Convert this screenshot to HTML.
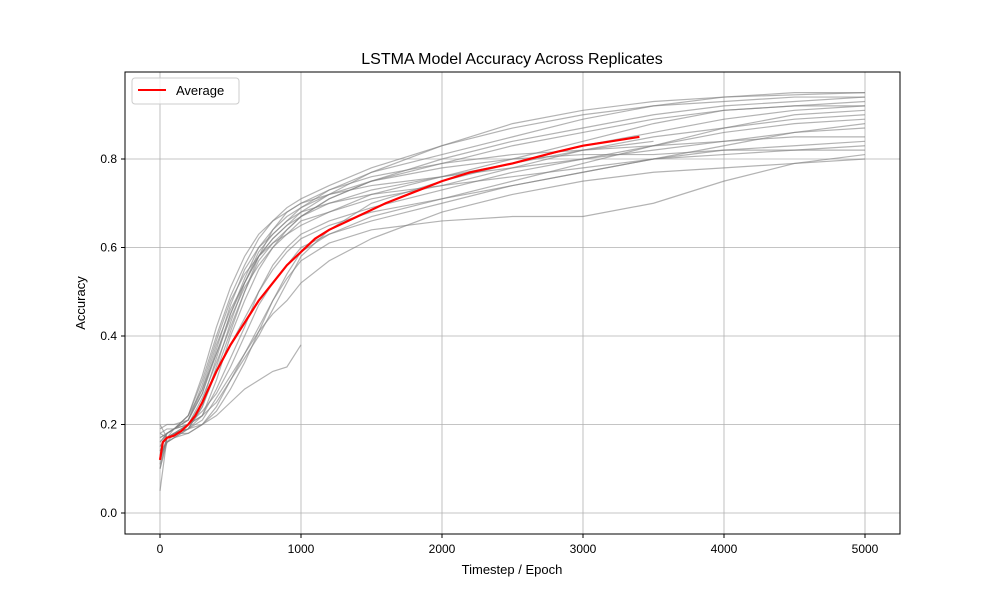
<!DOCTYPE html>
<html><head><meta charset="utf-8"><style>
html,body{margin:0;padding:0;background:#fff;}
svg{display:block;font-family:"Liberation Sans","DejaVu Sans",sans-serif;}
</style></head><body>
<svg id="chart" width="1000" height="600" viewBox="0 0 1000 600">
<rect x="0" y="0" width="1000" height="600" fill="#fff"/>
<text x="512" y="64" text-anchor="middle" font-size="16">LSTMA Model Accuracy Across Replicates</text>
<g id="grid"></g>
<g id="series"></g>
<g id="avg"></g>
<rect x="125" y="72" width="775" height="462" fill="none" stroke="#000" stroke-width="1"/>
<g id="xticks"></g>
<g id="yticks"></g>
<text x="512" y="574" text-anchor="middle" font-size="13">Timestep / Epoch</text>
<text x="85" y="303" text-anchor="middle" font-size="13" transform="rotate(-90 85 303)">Accuracy</text>
<g>
<rect x="132" y="78" width="107" height="26" rx="3" fill="#fff" fill-opacity="0.8" stroke="#ccc"/>
<line x1="138" y1="90" x2="166" y2="90" stroke="#ff0000" stroke-width="2"/>
<text x="176" y="95" font-size="13">Average</text>
</g>
</svg>
<script>
const xTicks=[0,1000,2000,3000,4000,5000];
const yTicks=[0.0,0.2,0.4,0.6,0.8];
const xs=[0,50,100,200,300,400,500,600,700,800,900,1000,1200,1500,2000,2500,3000,3500,4000,4500,5000];
const r1=[0.05,0.17,0.18,0.19,0.22,0.30,0.40,0.48,0.55,0.60,0.64,0.67,0.71,0.75,0.80,0.84,0.87,0.90,0.92,0.93,0.94];
const r2=[0.15,0.18,0.19,0.21,0.28,0.38,0.46,0.52,0.58,0.62,0.65,0.68,0.72,0.77,0.83,0.88,0.91,0.93,0.94,0.945,0.95];
const r3=[0.2,0.17,0.18,0.18,0.20,0.24,0.30,0.36,0.42,0.48,0.53,0.57,0.61,0.64,0.66,0.67,0.67,0.70,0.75,0.79,0.81];
const r4=[0.1,0.16,0.17,0.19,0.25,0.35,0.45,0.53,0.60,0.64,0.67,0.69,0.72,0.74,0.76,0.78,0.80,0.82,0.84,0.86,0.87];
const r5=[0.16,0.18,0.19,0.20,0.23,0.27,0.33,0.40,0.47,0.52,0.56,0.60,0.63,0.66,0.70,0.74,0.77,0.80,0.82,0.83,0.84];
const r6=[0.12,0.17,0.18,0.20,0.26,0.34,0.42,0.50,0.57,0.61,0.63,0.66,0.68,0.72,0.76,0.80,0.84,0.88,0.91,0.92,0.93];
const r7=[0.18,0.19,0.19,0.22,0.30,0.40,0.49,0.56,0.62,0.66,0.69,0.71,0.74,0.78,0.83,0.87,0.90,0.92,0.93,0.94,0.94];
const r8=[0.14,0.16,0.17,0.19,0.21,0.26,0.31,0.36,0.41,0.45,0.48,0.52,0.57,0.62,0.68,0.72,0.75,0.77,0.78,0.79,0.80];
const r9=[0.1,0.17,0.18,0.19,0.20,0.22,0.25,0.28,0.30,0.32,0.33,0.38,null,null,null,null,null,null,null,null,null];
const r10=[0.17,0.18,0.19,0.22,0.28,0.36,0.44,0.51,0.56,0.60,0.63,0.65,0.68,0.71,0.74,0.78,0.82,0.85,0.87,0.89,0.90];
const r11=[0.13,0.16,0.18,0.19,0.24,0.32,0.41,0.50,0.58,0.64,0.68,0.70,0.73,0.76,0.79,0.81,0.82,0.83,0.84,0.85,0.85];
const r12=[0.19,0.20,0.20,0.21,0.27,0.37,0.47,0.55,0.60,0.63,0.66,0.69,0.73,0.77,0.81,0.85,0.89,0.92,0.94,0.95,0.95];
const r13=[0.15,0.17,0.18,0.20,0.22,0.28,0.35,0.42,0.50,0.56,0.60,0.63,0.66,0.69,0.73,0.77,0.80,0.83,0.86,0.88,0.89];
const r14=[0.11,0.17,0.18,0.19,0.24,0.33,0.43,0.52,0.59,0.63,0.66,0.68,0.70,0.72,0.74,0.76,0.78,0.80,0.81,0.82,0.83];
const r15=[0.16,0.18,0.19,0.21,0.29,0.39,0.48,0.54,0.58,0.61,0.64,0.67,0.71,0.75,0.79,0.83,0.86,0.89,0.91,0.92,0.92];
const r16=[0.18,0.17,0.18,0.20,0.25,0.32,0.38,0.44,0.50,0.55,0.59,0.62,0.65,0.68,0.71,0.74,0.77,0.80,0.83,0.86,0.88];
const r17=[0.12,0.17,0.19,0.21,0.27,0.36,0.45,0.52,0.58,0.62,0.65,0.67,0.70,0.73,0.76,0.79,0.82,0.84,null,null,null];
const r18=[0.14,0.18,0.19,0.20,0.22,0.25,0.30,0.35,0.40,0.46,0.52,0.58,0.64,0.70,0.75,0.79,0.83,0.86,0.89,0.91,0.92];
const r19=[0.17,0.18,0.19,0.22,0.31,0.42,0.51,0.58,0.63,0.66,0.68,0.70,0.72,0.75,0.78,0.80,0.81,0.81,0.82,0.82,0.82];
const r20=[0.13,0.16,0.17,0.18,0.20,0.23,0.28,0.34,0.41,0.48,0.54,0.59,0.63,0.67,0.71,0.75,0.79,0.83,0.87,0.90,0.91];
const avgX=[0,20,50,100,150,200,250,300,400,500,600,700,800,900,1000,1100,1200,1400,1600,1800,2000,2200,2500,2800,3000,3200,3400];
const avgY=[0.12,0.16,0.17,0.175,0.185,0.2,0.22,0.25,0.32,0.38,0.43,0.48,0.52,0.56,0.59,0.62,0.64,0.67,0.70,0.725,0.75,0.77,0.79,0.815,0.83,0.84,0.85];
const replicates=[r1,r2,r3,r4,r5,r6,r7,r8,r9,r10,r11,r12,r13,r14,r15,r16,r17,r18,r19,r20];

const NS="http://www.w3.org/2000/svg";
function sx(v){return 160+v*(865-160)/5000;}
function sy(v){return 513-v*(513-159)/0.8;}
function mk(tag,attrs,parent){const e=document.createElementNS(NS,tag);for(const k in attrs)e.setAttribute(k,attrs[k]);parent.appendChild(e);return e;}
const grid=document.getElementById('grid'),xt=document.getElementById('xticks'),yt=document.getElementById('yticks');
xTicks.forEach(t=>{
  const g=mk('line',{x1:sx(t),x2:sx(t),y1:72,y2:534,stroke:'#b0b0b0','stroke-width':0.8},grid);
  
  
  mk('line',{x1:sx(t),x2:sx(t),y1:534,y2:538,stroke:'#000'},xt);
  const l=mk('text',{x:sx(t),y:553,'text-anchor':'middle','font-size':12},xt);
  l.textContent=String(t);
  
  
});
yTicks.forEach(t=>{
  const g=mk('line',{x1:125,x2:900,y1:sy(t),y2:sy(t),stroke:'#b0b0b0','stroke-width':0.8},grid);
  
  
  mk('line',{x1:121,x2:125,y1:sy(t),y2:sy(t),stroke:'#000'},yt);
  const l=mk('text',{x:117,y:sy(t)+4,'text-anchor':'end','font-size':12},yt);
  l.textContent=t.toFixed(1);
  
  
});
const sg=document.getElementById('series');
replicates.forEach((r,i)=>{
  const pts=[];r.forEach((v,j)=>{if(v!==null)pts.push(sx(xs[j])+','+sy(v));});
  const p=mk('polyline',{points:pts.join(' '),fill:'none',stroke:'#808080','stroke-opacity':0.6,'stroke-width':1.2},sg);
  
  
});
const ap=avgX.map((x,i)=>sx(x)+','+sy(avgY[i])).join(' ');
const a=mk('polyline',{points:ap,fill:'none',stroke:'#ff0000','stroke-width':2.2},document.getElementById('avg'));


</script>
</body></html>
